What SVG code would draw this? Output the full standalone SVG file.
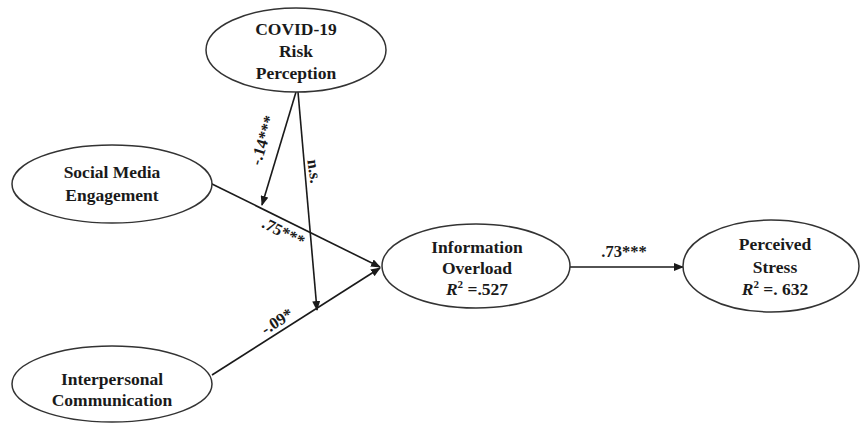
<svg xmlns="http://www.w3.org/2000/svg" width="862" height="425" viewBox="0 0 862 425">
<defs>
<marker id="arr" markerWidth="10" markerHeight="8" refX="9" refY="4" orient="auto" markerUnits="userSpaceOnUse">
<path d="M0,0 L10,4 L0,8 Z" fill="#1a1a1a"/>
</marker>
</defs>
<style>
.node ellipse{fill:#fff;stroke:#333;stroke-width:1.5}
.t{font-family:"Liberation Serif","Times New Roman",serif;font-weight:bold;font-size:17.5px;fill:#1a1a1a;text-anchor:middle}
.lbl{font-family:"Liberation Serif","Times New Roman",serif;font-weight:bold;font-size:16.5px;fill:#1a1a1a;text-anchor:middle}
.edge{stroke:#1a1a1a;stroke-width:1.6;fill:none}
</style>
<rect width="862" height="425" fill="#fff"/>
<g id="connectors">
<line class="edge" x1="210" y1="183" x2="380" y2="267" marker-end="url(#arr)"/>
<line class="edge" x1="212" y1="375" x2="380" y2="268" marker-end="url(#arr)"/>
<line class="edge" x1="296" y1="92" x2="262" y2="205" marker-end="url(#arr)"/>
<line class="edge" x1="298" y1="92" x2="317" y2="310" marker-end="url(#arr)"/>
<line class="edge" x1="570" y1="267" x2="683" y2="267" marker-end="url(#arr)"/>
<text class="lbl" transform="translate(268,142) rotate(-72.7)">-.14***</text>
<text class="lbl" transform="translate(309,172) rotate(82)">n.s.</text>
<text class="lbl" transform="translate(281,237) rotate(26.6)">.75***</text>
<text class="lbl" transform="translate(280,326) rotate(-32.5)">-.09*</text>
<text class="lbl" x="624" y="257">.73***</text>
</g>
<g id="covid" class="node">
<ellipse cx="296" cy="50" rx="90" ry="42"/>
<text class="t" x="296" y="35">COVID-19</text>
<text class="t" x="296" y="57">Risk</text>
<text class="t" x="296" y="79">Perception</text>
</g>
<g id="social" class="node">
<ellipse cx="112" cy="184" rx="100" ry="39"/>
<text class="t" x="112" y="178">Social Media</text>
<text class="t" x="112" y="201">Engagement</text>
</g>
<g id="interpersonal" class="node">
<ellipse cx="112" cy="384" rx="100" ry="38"/>
<text class="t" x="112" y="385">Interpersonal</text>
<text class="t" x="112" y="406">Communication</text>
</g>
<g id="overload" class="node">
<ellipse cx="476" cy="266" rx="94" ry="42"/>
<text class="t" x="477" y="253">Information</text>
<text class="t" x="477" y="274">Overload</text>
<text class="t" x="477" y="295"><tspan font-style="italic">R</tspan><tspan font-size="11" dy="-7">2</tspan><tspan dy="7"> =.527</tspan></text>
</g>
<g id="stress" class="node">
<ellipse cx="771" cy="266" rx="88" ry="46"/>
<text class="t" x="775" y="250">Perceived</text>
<text class="t" x="775" y="273">Stress</text>
<text class="t" x="775" y="295"><tspan font-style="italic">R</tspan><tspan font-size="11" dy="-7">2</tspan><tspan dy="7"> =. 632</tspan></text>
</g>
</svg>
